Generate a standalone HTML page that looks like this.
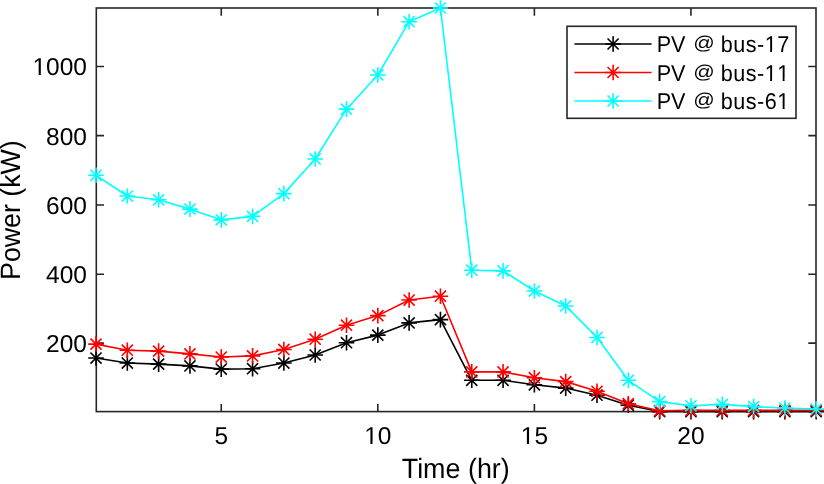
<!DOCTYPE html>
<html><head><meta charset="utf-8"><title>PV Power</title>
<style>
html,body{margin:0;padding:0;background:#fff;width:824px;height:484px;overflow:hidden}
svg{display:block;will-change:transform;font-family:"Liberation Sans",sans-serif;fill:#000}
text{fill:#000;text-rendering:geometricPrecision}
</style></head><body>
<svg width="824" height="484" viewBox="0 0 824 484">
<defs><clipPath id="c"><rect x="96.30" y="7.00" width="719.70" height="405.40"/></clipPath></defs>
<path d="M221.25 411.60V403.90M221.25 8.00V15.70M377.82 411.60V403.90M377.82 8.00V15.70M534.38 411.60V403.90M534.38 8.00V15.70M690.95 411.60V403.90M690.95 8.00V15.70M96.30 343.10H104.00M816.00 343.10H808.30M96.30 274.20H104.00M816.00 274.20H808.30M96.30 205.00H104.00M816.00 205.00H808.30M96.30 135.60H104.00M816.00 135.60H808.30M96.30 66.45H104.00M816.00 66.45H808.30" stroke="#262626" stroke-width="1.6" fill="none"/>
<rect x="96.30" y="8.00" width="719.70" height="403.60" fill="none" stroke="#262626" stroke-width="1.6"/>
<polyline points="96.00,358.01 127.31,363.02 158.63,364.12 189.94,365.92 221.25,369.10 252.57,368.72 283.88,363.02 315.19,355.00 346.50,342.71 377.82,335.11 409.13,322.91 440.44,319.63 471.76,380.32 503.07,380.32 534.38,384.81 565.70,388.09 597.01,395.21 628.32,405.30 659.63,411.58 690.95,411.69 722.26,411.69 753.57,411.69 784.89,411.69 816.20,411.69" stroke="#000" stroke-width="1.6" fill="none" stroke-linejoin="round" clip-path="url(#c)"/><path d="M88.20 358.01H103.80M96.00 350.21V365.81M90.45 352.46L101.55 363.56M90.45 363.56L101.55 352.46" stroke="#000" stroke-width="1.6" fill="none"/><path d="M119.51 363.02H135.11M127.31 355.22V370.82M121.76 357.47L132.86 368.57M121.76 368.57L132.86 357.47" stroke="#000" stroke-width="1.6" fill="none"/><path d="M150.83 364.12H166.43M158.63 356.32V371.92M153.08 358.57L164.18 369.67M153.08 369.67L164.18 358.57" stroke="#000" stroke-width="1.6" fill="none"/><path d="M182.14 365.92H197.74M189.94 358.12V373.72M184.39 360.37L195.49 371.47M184.39 371.47L195.49 360.37" stroke="#000" stroke-width="1.6" fill="none"/><path d="M213.45 369.10H229.05M221.25 361.30V376.90M215.70 363.55L226.80 374.65M215.70 374.65L226.80 363.55" stroke="#000" stroke-width="1.6" fill="none"/><path d="M244.77 368.72H260.37M252.57 360.92V376.52M247.02 363.17L258.12 374.27M247.02 374.27L258.12 363.17" stroke="#000" stroke-width="1.6" fill="none"/><path d="M276.08 363.02H291.68M283.88 355.22V370.82M278.33 357.47L289.43 368.57M278.33 368.57L289.43 357.47" stroke="#000" stroke-width="1.6" fill="none"/><path d="M307.39 355.00H322.99M315.19 347.20V362.80M309.64 349.45L320.74 360.55M309.64 360.55L320.74 349.45" stroke="#000" stroke-width="1.6" fill="none"/><path d="M338.70 342.71H354.30M346.50 334.91V350.51M340.95 337.16L352.05 348.26M340.95 348.26L352.05 337.16" stroke="#000" stroke-width="1.6" fill="none"/><path d="M370.02 335.11H385.62M377.82 327.31V342.91M372.27 329.56L383.37 340.66M372.27 340.66L383.37 329.56" stroke="#000" stroke-width="1.6" fill="none"/><path d="M401.33 322.91H416.93M409.13 315.11V330.71M403.58 317.36L414.68 328.46M403.58 328.46L414.68 317.36" stroke="#000" stroke-width="1.6" fill="none"/><path d="M432.64 319.63H448.24M440.44 311.83V327.43M434.89 314.08L445.99 325.18M434.89 325.18L445.99 314.08" stroke="#000" stroke-width="1.6" fill="none"/><path d="M463.96 380.32H479.56M471.76 372.52V388.12M466.21 374.77L477.31 385.87M466.21 385.87L477.31 374.77" stroke="#000" stroke-width="1.6" fill="none"/><path d="M495.27 380.32H510.87M503.07 372.52V388.12M497.52 374.77L508.62 385.87M497.52 385.87L508.62 374.77" stroke="#000" stroke-width="1.6" fill="none"/><path d="M526.58 384.81H542.18M534.38 377.01V392.61M528.83 379.26L539.93 390.36M528.83 390.36L539.93 379.26" stroke="#000" stroke-width="1.6" fill="none"/><path d="M557.90 388.09H573.50M565.70 380.29V395.89M560.15 382.54L571.25 393.64M560.15 393.64L571.25 382.54" stroke="#000" stroke-width="1.6" fill="none"/><path d="M589.21 395.21H604.81M597.01 387.41V403.01M591.46 389.66L602.56 400.76M591.46 400.76L602.56 389.66" stroke="#000" stroke-width="1.6" fill="none"/><path d="M620.52 405.30H636.12M628.32 397.50V413.10M622.77 399.75L633.87 410.85M622.77 410.85L633.87 399.75" stroke="#000" stroke-width="1.6" fill="none"/><path d="M651.83 411.58H667.43M659.63 403.78V419.38M654.08 406.03L665.18 417.13M654.08 417.13L665.18 406.03" stroke="#000" stroke-width="1.6" fill="none"/><path d="M683.15 411.69H698.75M690.95 403.89V419.49M685.40 406.14L696.50 417.24M685.40 417.24L696.50 406.14" stroke="#000" stroke-width="1.6" fill="none"/><path d="M714.46 411.69H730.06M722.26 403.89V419.49M716.71 406.14L727.81 417.24M716.71 417.24L727.81 406.14" stroke="#000" stroke-width="1.6" fill="none"/><path d="M745.77 411.69H761.37M753.57 403.89V419.49M748.02 406.14L759.12 417.24M748.02 417.24L759.12 406.14" stroke="#000" stroke-width="1.6" fill="none"/><path d="M777.09 411.69H792.69M784.89 403.89V419.49M779.34 406.14L790.44 417.24M779.34 417.24L790.44 406.14" stroke="#000" stroke-width="1.6" fill="none"/><path d="M808.40 411.69H824.00M816.20 403.89V419.49M810.65 406.14L821.75 417.24M810.65 417.24L821.75 406.14" stroke="#000" stroke-width="1.6" fill="none"/>
<polyline points="96.00,344.11 127.31,350.22 158.63,351.12 189.94,353.92 221.25,357.03 252.57,355.92 283.88,349.43 315.19,339.21 346.50,325.22 377.82,315.61 409.13,300.03 440.44,296.24 471.76,371.92 503.07,371.92 534.38,377.72 565.70,381.62 597.01,391.29 628.32,403.70 659.63,410.71 690.95,410.40 722.26,410.40 753.57,410.40 784.89,410.40 816.20,410.40" stroke="#f00" stroke-width="1.6" fill="none" stroke-linejoin="round" clip-path="url(#c)"/><path d="M88.20 344.11H103.80M96.00 336.31V351.91M90.45 338.56L101.55 349.66M90.45 349.66L101.55 338.56" stroke="#f00" stroke-width="1.6" fill="none"/><path d="M119.51 350.22H135.11M127.31 342.42V358.02M121.76 344.67L132.86 355.77M121.76 355.77L132.86 344.67" stroke="#f00" stroke-width="1.6" fill="none"/><path d="M150.83 351.12H166.43M158.63 343.32V358.92M153.08 345.57L164.18 356.67M153.08 356.67L164.18 345.57" stroke="#f00" stroke-width="1.6" fill="none"/><path d="M182.14 353.92H197.74M189.94 346.12V361.72M184.39 348.37L195.49 359.47M184.39 359.47L195.49 348.37" stroke="#f00" stroke-width="1.6" fill="none"/><path d="M213.45 357.03H229.05M221.25 349.23V364.83M215.70 351.48L226.80 362.58M215.70 362.58L226.80 351.48" stroke="#f00" stroke-width="1.6" fill="none"/><path d="M244.77 355.92H260.37M252.57 348.12V363.72M247.02 350.37L258.12 361.47M247.02 361.47L258.12 350.37" stroke="#f00" stroke-width="1.6" fill="none"/><path d="M276.08 349.43H291.68M283.88 341.63V357.23M278.33 343.88L289.43 354.98M278.33 354.98L289.43 343.88" stroke="#f00" stroke-width="1.6" fill="none"/><path d="M307.39 339.21H322.99M315.19 331.41V347.01M309.64 333.66L320.74 344.76M309.64 344.76L320.74 333.66" stroke="#f00" stroke-width="1.6" fill="none"/><path d="M338.70 325.22H354.30M346.50 317.42V333.02M340.95 319.67L352.05 330.77M340.95 330.77L352.05 319.67" stroke="#f00" stroke-width="1.6" fill="none"/><path d="M370.02 315.61H385.62M377.82 307.81V323.41M372.27 310.06L383.37 321.16M372.27 321.16L383.37 310.06" stroke="#f00" stroke-width="1.6" fill="none"/><path d="M401.33 300.03H416.93M409.13 292.23V307.83M403.58 294.48L414.68 305.58M403.58 305.58L414.68 294.48" stroke="#f00" stroke-width="1.6" fill="none"/><path d="M432.64 296.24H448.24M440.44 288.44V304.04M434.89 290.69L445.99 301.79M434.89 301.79L445.99 290.69" stroke="#f00" stroke-width="1.6" fill="none"/><path d="M463.96 371.92H479.56M471.76 364.12V379.72M466.21 366.37L477.31 377.47M466.21 377.47L477.31 366.37" stroke="#f00" stroke-width="1.6" fill="none"/><path d="M495.27 371.92H510.87M503.07 364.12V379.72M497.52 366.37L508.62 377.47M497.52 377.47L508.62 366.37" stroke="#f00" stroke-width="1.6" fill="none"/><path d="M526.58 377.72H542.18M534.38 369.92V385.52M528.83 372.17L539.93 383.27M528.83 383.27L539.93 372.17" stroke="#f00" stroke-width="1.6" fill="none"/><path d="M557.90 381.62H573.50M565.70 373.82V389.42M560.15 376.07L571.25 387.17M560.15 387.17L571.25 376.07" stroke="#f00" stroke-width="1.6" fill="none"/><path d="M589.21 391.29H604.81M597.01 383.49V399.09M591.46 385.74L602.56 396.84M591.46 396.84L602.56 385.74" stroke="#f00" stroke-width="1.6" fill="none"/><path d="M620.52 403.70H636.12M628.32 395.90V411.50M622.77 398.15L633.87 409.25M622.77 409.25L633.87 398.15" stroke="#f00" stroke-width="1.6" fill="none"/><path d="M651.83 410.71H667.43M659.63 402.91V418.51M654.08 405.16L665.18 416.26M654.08 416.26L665.18 405.16" stroke="#f00" stroke-width="1.6" fill="none"/><path d="M683.15 410.40H698.75M690.95 402.60V418.20M685.40 404.85L696.50 415.95M685.40 415.95L696.50 404.85" stroke="#f00" stroke-width="1.6" fill="none"/><path d="M714.46 410.40H730.06M722.26 402.60V418.20M716.71 404.85L727.81 415.95M716.71 415.95L727.81 404.85" stroke="#f00" stroke-width="1.6" fill="none"/><path d="M745.77 410.40H761.37M753.57 402.60V418.20M748.02 404.85L759.12 415.95M748.02 415.95L759.12 404.85" stroke="#f00" stroke-width="1.6" fill="none"/><path d="M777.09 410.40H792.69M784.89 402.60V418.20M779.34 404.85L790.44 415.95M779.34 415.95L790.44 404.85" stroke="#f00" stroke-width="1.6" fill="none"/><path d="M808.40 410.40H824.00M816.20 402.60V418.20M810.65 404.85L821.75 415.95M810.65 415.95L821.75 404.85" stroke="#f00" stroke-width="1.6" fill="none"/>
<polyline points="96.00,175.29 127.31,196.01 158.63,199.81 189.94,209.14 221.25,219.85 252.57,216.39 283.88,193.66 315.19,158.95 346.50,109.17 377.82,74.98 409.13,21.68 440.44,8.00 471.76,270.24 503.07,270.83 534.38,291.04 565.70,305.93 597.01,337.43 628.32,380.29 659.63,401.61 690.95,405.79 722.26,404.40 753.57,406.62 784.89,408.00 816.20,409.00" stroke="#0ff" stroke-width="1.6" fill="none" stroke-linejoin="round" clip-path="url(#c)"/><path d="M88.20 175.29H103.80M96.00 167.49V183.09M90.45 169.74L101.55 180.84M90.45 180.84L101.55 169.74" stroke="#0ff" stroke-width="1.6" fill="none"/><path d="M119.51 196.01H135.11M127.31 188.21V203.81M121.76 190.46L132.86 201.56M121.76 201.56L132.86 190.46" stroke="#0ff" stroke-width="1.6" fill="none"/><path d="M150.83 199.81H166.43M158.63 192.01V207.61M153.08 194.26L164.18 205.36M153.08 205.36L164.18 194.26" stroke="#0ff" stroke-width="1.6" fill="none"/><path d="M182.14 209.14H197.74M189.94 201.34V216.94M184.39 203.59L195.49 214.69M184.39 214.69L195.49 203.59" stroke="#0ff" stroke-width="1.6" fill="none"/><path d="M213.45 219.85H229.05M221.25 212.05V227.65M215.70 214.30L226.80 225.40M215.70 225.40L226.80 214.30" stroke="#0ff" stroke-width="1.6" fill="none"/><path d="M244.77 216.39H260.37M252.57 208.59V224.19M247.02 210.84L258.12 221.94M247.02 221.94L258.12 210.84" stroke="#0ff" stroke-width="1.6" fill="none"/><path d="M276.08 193.66H291.68M283.88 185.86V201.46M278.33 188.11L289.43 199.21M278.33 199.21L289.43 188.11" stroke="#0ff" stroke-width="1.6" fill="none"/><path d="M307.39 158.95H322.99M315.19 151.15V166.75M309.64 153.40L320.74 164.50M309.64 164.50L320.74 153.40" stroke="#0ff" stroke-width="1.6" fill="none"/><path d="M338.70 109.17H354.30M346.50 101.37V116.97M340.95 103.62L352.05 114.72M340.95 114.72L352.05 103.62" stroke="#0ff" stroke-width="1.6" fill="none"/><path d="M370.02 74.98H385.62M377.82 67.18V82.78M372.27 69.43L383.37 80.53M372.27 80.53L383.37 69.43" stroke="#0ff" stroke-width="1.6" fill="none"/><path d="M401.33 21.68H416.93M409.13 13.88V29.48M403.58 16.13L414.68 27.23M403.58 27.23L414.68 16.13" stroke="#0ff" stroke-width="1.6" fill="none"/><path d="M432.64 8.00H448.24M440.44 0.20V15.80M434.89 2.45L445.99 13.55M434.89 13.55L445.99 2.45" stroke="#0ff" stroke-width="1.6" fill="none"/><path d="M463.96 270.24H479.56M471.76 262.44V278.04M466.21 264.69L477.31 275.79M466.21 275.79L477.31 264.69" stroke="#0ff" stroke-width="1.6" fill="none"/><path d="M495.27 270.83H510.87M503.07 263.03V278.63M497.52 265.28L508.62 276.38M497.52 276.38L508.62 265.28" stroke="#0ff" stroke-width="1.6" fill="none"/><path d="M526.58 291.04H542.18M534.38 283.24V298.84M528.83 285.49L539.93 296.59M528.83 296.59L539.93 285.49" stroke="#0ff" stroke-width="1.6" fill="none"/><path d="M557.90 305.93H573.50M565.70 298.13V313.73M560.15 300.38L571.25 311.48M560.15 311.48L571.25 300.38" stroke="#0ff" stroke-width="1.6" fill="none"/><path d="M589.21 337.43H604.81M597.01 329.63V345.23M591.46 331.88L602.56 342.98M591.46 342.98L602.56 331.88" stroke="#0ff" stroke-width="1.6" fill="none"/><path d="M620.52 380.29H636.12M628.32 372.49V388.09M622.77 374.74L633.87 385.84M622.77 385.84L633.87 374.74" stroke="#0ff" stroke-width="1.6" fill="none"/><path d="M651.83 401.61H667.43M659.63 393.81V409.41M654.08 396.06L665.18 407.16M654.08 407.16L665.18 396.06" stroke="#0ff" stroke-width="1.6" fill="none"/><path d="M683.15 405.79H698.75M690.95 397.99V413.59M685.40 400.24L696.50 411.34M685.40 411.34L696.50 400.24" stroke="#0ff" stroke-width="1.6" fill="none"/><path d="M714.46 404.40H730.06M722.26 396.60V412.20M716.71 398.85L727.81 409.95M716.71 409.95L727.81 398.85" stroke="#0ff" stroke-width="1.6" fill="none"/><path d="M745.77 406.62H761.37M753.57 398.82V414.42M748.02 401.07L759.12 412.17M748.02 412.17L759.12 401.07" stroke="#0ff" stroke-width="1.6" fill="none"/><path d="M777.09 408.00H792.69M784.89 400.20V415.80M779.34 402.45L790.44 413.55M779.34 413.55L790.44 402.45" stroke="#0ff" stroke-width="1.6" fill="none"/><path d="M808.40 409.00H824.00M816.20 401.20V416.80M810.65 403.45L821.75 414.55M810.65 414.55L821.75 403.45" stroke="#0ff" stroke-width="1.6" fill="none"/>
<g transform="translate(221.25 444.30)"><text text-anchor="middle" font-size="24.5">5</text></g>
<g transform="translate(377.82 444.30)"><text text-anchor="middle" font-size="24.5">10</text><rect x="-12.47" y="-2.28" width="4.97" height="2.98" fill="#fff"/><rect x="-5.29" y="-2.28" width="4.78" height="2.98" fill="#fff"/></g>
<g transform="translate(534.38 444.30)"><text text-anchor="middle" font-size="24.5">15</text><rect x="-12.47" y="-2.28" width="4.97" height="2.98" fill="#fff"/><rect x="-5.29" y="-2.28" width="4.78" height="2.98" fill="#fff"/></g>
<g transform="translate(690.95 444.30)"><text text-anchor="middle" font-size="24.5">20</text></g>
<g transform="translate(87.00 352.00)"><text text-anchor="end" font-size="24.5">200</text></g>
<g transform="translate(87.00 283.00)"><text text-anchor="end" font-size="24.5">400</text></g>
<g transform="translate(87.00 214.00)"><text text-anchor="end" font-size="24.5">600</text></g>
<g transform="translate(87.00 145.00)"><text text-anchor="end" font-size="24.5">800</text></g>
<g transform="translate(87.00 75.00)"><text text-anchor="end" font-size="24.5">1000</text><rect x="-53.35" y="-2.28" width="4.97" height="2.98" fill="#fff"/><rect x="-46.17" y="-2.28" width="4.78" height="2.98" fill="#fff"/></g>
<g transform="translate(455.75 477.70) scale(1 1.04)"><text text-anchor="middle" font-size="26.9">Time (hr)</text></g>
<g transform="translate(19.80 210.10) rotate(-90) scale(1 1.0458317757009346)"><text text-anchor="middle" font-size="26.75">Power (kW)</text></g>
<rect x="567.0" y="26.3" width="229.00" height="92.00" fill="#fff" stroke="#262626" stroke-width="1.6"/>
<path d="M574.4 44.00H651.6" stroke="#000" stroke-width="1.6"/>
<path d="M605.30 44.00H620.90M613.10 36.20V51.80M607.55 38.45L618.65 49.55M607.55 49.55L618.65 38.45" stroke="#000" stroke-width="1.6" fill="none"/>
<g transform="translate(656.70 52.00) scale(1 1.06)"><text font-size="21.6">PV</text></g>
<text transform="translate(693.13 49.43) scale(0.98 0.8637)" font-size="21.6">@</text>
<g transform="translate(720.70 52.00) scale(1 1.06)"><text font-size="21.6" letter-spacing="0.5" style="font-kerning:none">bus-17</text><rect x="44.95" y="-2.06" width="4.47" height="2.76" fill="#fff"/><rect x="51.36" y="-2.06" width="4.30" height="2.76" fill="#fff"/></g>
<path d="M574.4 72.50H651.6" stroke="#f00" stroke-width="1.6"/>
<path d="M605.30 72.50H620.90M613.10 64.70V80.30M607.55 66.95L618.65 78.05M607.55 78.05L618.65 66.95" stroke="#f00" stroke-width="1.6" fill="none"/>
<g transform="translate(656.70 80.50) scale(1 1.06)"><text font-size="21.6">PV</text></g>
<text transform="translate(693.13 77.93) scale(0.98 0.8637)" font-size="21.6">@</text>
<g transform="translate(720.70 80.50) scale(1 1.06)"><text font-size="21.6" letter-spacing="0.5" style="font-kerning:none">bus-11</text><rect x="44.95" y="-2.06" width="4.47" height="2.76" fill="#fff"/><rect x="51.36" y="-2.06" width="4.30" height="2.76" fill="#fff"/><rect x="57.46" y="-2.06" width="4.47" height="2.76" fill="#fff"/><rect x="63.88" y="-2.06" width="4.30" height="2.76" fill="#fff"/></g>
<path d="M574.4 101.00H651.6" stroke="#0ff" stroke-width="1.6"/>
<path d="M605.30 101.00H620.90M613.10 93.20V108.80M607.55 95.45L618.65 106.55M607.55 106.55L618.65 95.45" stroke="#0ff" stroke-width="1.6" fill="none"/>
<g transform="translate(656.70 109.00) scale(1 1.06)"><text font-size="21.6">PV</text></g>
<text transform="translate(693.13 106.43) scale(0.98 0.8637)" font-size="21.6">@</text>
<g transform="translate(720.70 109.00) scale(1 1.06)"><text font-size="21.6" letter-spacing="0.5" style="font-kerning:none">bus-61</text><rect x="57.46" y="-2.06" width="4.47" height="2.76" fill="#fff"/><rect x="63.88" y="-2.06" width="4.30" height="2.76" fill="#fff"/></g>
</svg>
</body></html>
